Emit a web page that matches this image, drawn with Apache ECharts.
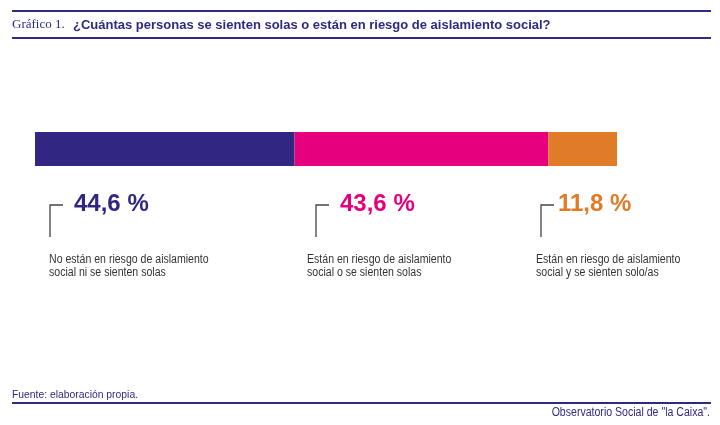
<!DOCTYPE html>
<html>
<head>
<meta charset="utf-8">
<script src="https://cdn.jsdelivr.net/npm/echarts@6/dist/echarts.min.js"></script>
<style>
  html, body { margin: 0; padding: 0; background: #fff; }
  #chart { width: 720px; height: 425px; }
</style>
</head>
<body>
<div id="chart"></div>
<script>
// Data
const categories = [
  'No están en riesgo de aislamiento\nsocial ni se sienten solas',
  'Están en riesgo de aislamiento\nsocial o se sienten solas',
  'Están en riesgo de aislamiento\nsocial y se sienten solo/as'
];
const values = [44.6, 43.6, 11.8];
const colors = ['#312783', '#e6007e', '#e07b28'];

const NAVY = '#2e2a80';
const narrow = '"Liberation Sans Narrow", "Liberation Sans", Arial, sans-serif';

// annotation layout (bracket x, value x, label x)
const annot = [
  { bx: 50, vx: 74, lx: 49 },
  { bx: 316, vx: 340, lx: 307 },
  { bx: 541, vx: 558, lx: 536 }
];

function fmt(v) {
  return v.toFixed(1).replace('.', ',') + ' %';
}

const chart = echarts.init(document.getElementById('chart'));

const graphics = [
  // header rules
  { type: 'line', shape: { x1: 12, y1: 11, x2: 711, y2: 11 }, style: { stroke: NAVY, lineWidth: 2 } },
  { type: 'line', shape: { x1: 12, y1: 38, x2: 711, y2: 38 }, style: { stroke: NAVY, lineWidth: 2 } },
  { type: 'text', x: 12, y: 25, style: {
      text: 'Gráfico 1.', fill: NAVY, font: '13px "Liberation Serif", "Times New Roman", serif',
      verticalAlign: 'middle' } },
  { type: 'text', x: 73, y: 25, style: {
      text: '¿Cuántas personas se sienten solas o están en riesgo de aislamiento social?',
      fill: NAVY, font: 'bold 13px ' + narrow, verticalAlign: 'middle' } },
  // footer
  { type: 'text', x: 12, y: 395, scaleX: 0.9, style: {
      text: 'Fuente: elaboración propia.', fill: NAVY, font: '11.5px ' + narrow, verticalAlign: 'middle' } },
  { type: 'line', shape: { x1: 12, y1: 403, x2: 711, y2: 403 }, style: { stroke: NAVY, lineWidth: 2 } },
  { type: 'text', x: 710, y: 413, scaleX: 0.88, style: {
      text: 'Observatorio Social de "la Caixa".', fill: NAVY, font: '12px ' + narrow,
      align: 'right', verticalAlign: 'middle' } }
];

values.forEach((v, i) => {
  const a = annot[i];
  graphics.push(
    { type: 'polyline', shape: { points: [[a.bx, 237], [a.bx, 205], [a.bx + 13, 205]] },
      style: { stroke: '#444', lineWidth: 1.3, fill: null } },
    { type: 'text', x: a.vx, y: 204, style: {
        text: fmt(v), fill: colors[i], font: 'bold 24px "Liberation Sans", Arial, sans-serif',
        verticalAlign: 'middle' } },
    { type: 'text', x: a.lx, y: 253.5, scaleX: 0.88, style: {
        text: categories[i], fill: '#333', font: '12px ' + narrow, lineHeight: 13,
        verticalAlign: 'top' } }
  );
});

chart.setOption({
  animation: false,
  grid: { left: 35, right: 103, top: 132, height: 34 },
  xAxis: { type: 'value', min: 0, max: 100, show: false },
  yAxis: { type: 'category', data: ['total'], show: false },
  series: values.map((v, i) => ({
    name: categories[i],
    type: 'bar',
    stack: 'total',
    barWidth: 34,
    itemStyle: { color: colors[i] },
    data: [v]
  })),
  graphic: graphics
});
</script>
</body>
</html>
